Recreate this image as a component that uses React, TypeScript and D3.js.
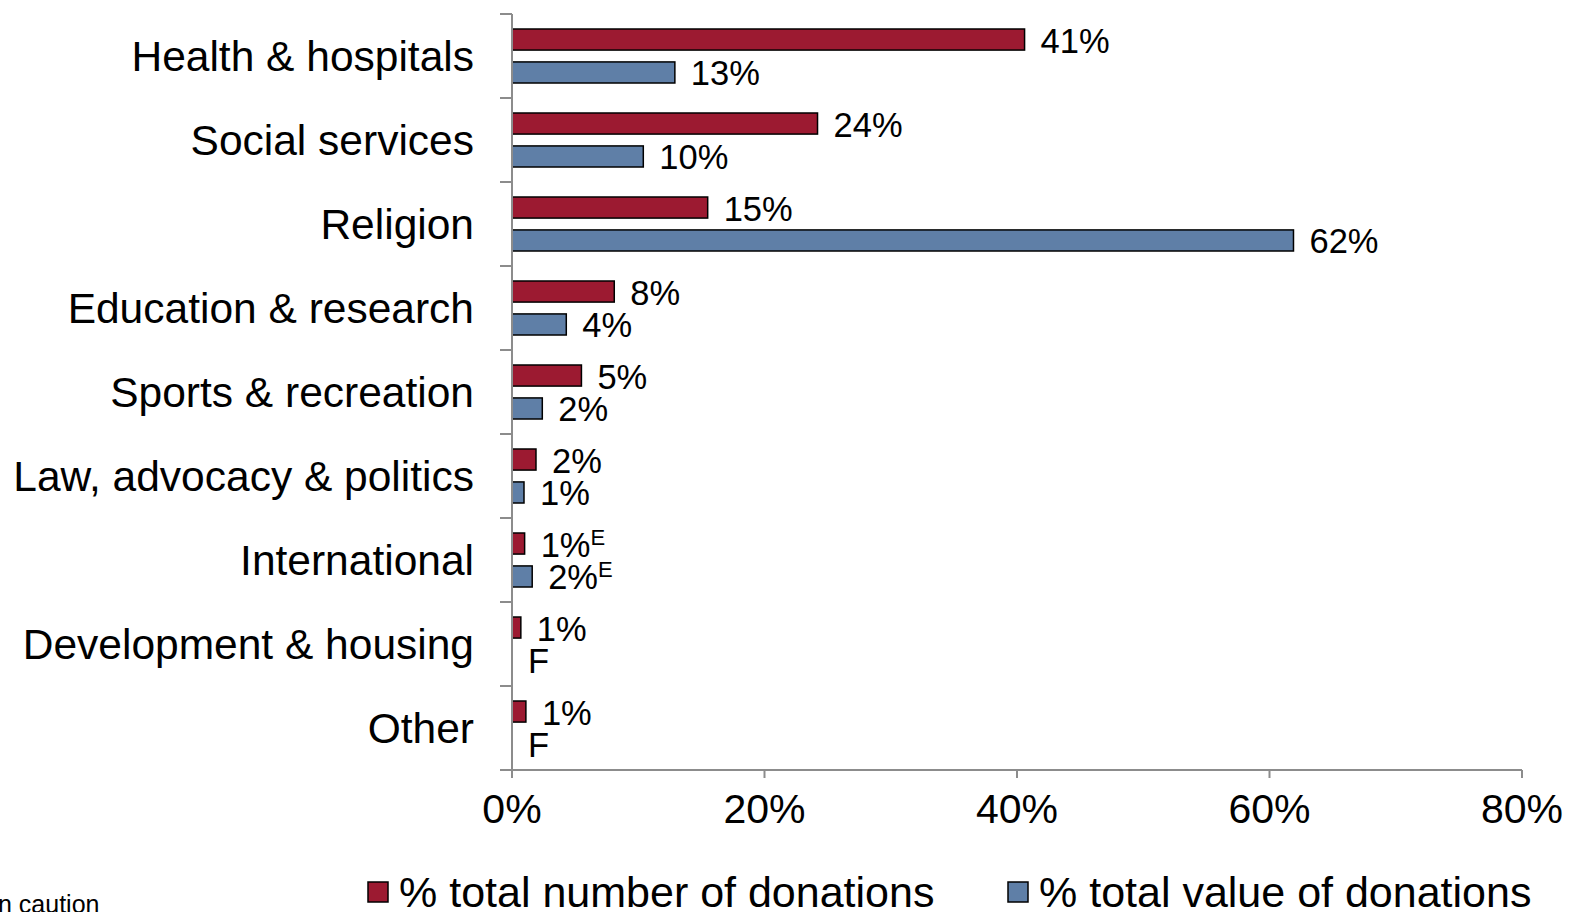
import { useEffect, useRef } from 'react';
import * as d3 from 'd3';

// categories, top to bottom
const categories = [
  'Health & hospitals',
  'Social services',
  'Religion',
  'Education & research',
  'Sports & recreation',
  'Law, advocacy & politics',
  'International',
  'Development & housing',
  'Other',
];

// % total number of donations
const numberValues = [40.6, 24.2, 15.5, 8.1, 5.5, 1.9, 1.0, 0.7, 1.1];
const numberLabels = ['41%', '24%', '15%', '8%', '5%', '2%', '1%', '1%', '1%'];
const numberFlags = ['', '', '', '', '', '', 'E', '', ''];

// % total value of donations (null = F, too unreliable)
const valueValues = [12.9, 10.4, 61.9, 4.3, 2.4, 0.95, 1.6, null, null];
const valueLabels = ['13%', '10%', '62%', '4%', '2%', '1%', '2%', 'F', 'F'];
const valueFlags = ['', '', '', '', '', '', 'E', '', ''];

const xTicks = [0, 20, 40, 60, 80];
const seriesNames = ['% total number of donations', '% total value of donations'];

const RED = '#9c1a31';
const BLUE = '#5f7fa7';
const AXIS = '#8c8c8c';
const FONT = '"Liberation Sans", Arial, sans-serif';

const App = () => {
  const svgRef = useRef(null);

  useEffect(() => {
    document.body.style.margin = '0';
    const svg = d3.select(svgRef.current);
    svg.selectAll('*').remove();

    const width = 1573;
    const height = 912;
    svg.attr('width', width).attr('height', height);

    const left = 512;
    const right = 1522;
    const top = 14;
    const bottom = 770;

    const x = d3.scaleLinear().domain([0, 80]).range([left, right]);
    const y = d3.scaleBand().domain(categories).range([top, bottom]).padding(0);
    const inner = d3.scaleBand().domain(['num', 'val']).range([15, 69]).paddingInner(0.36);

    const rows = categories.map((c, i) => ({
      cat: c,
      num: numberValues[i],
      numLabel: numberLabels[i],
      numFlag: numberFlags[i],
      val: valueValues[i],
      valLabel: valueLabels[i],
      valFlag: valueFlags[i],
    }));

    const g = svg.append('g').attr('font-family', FONT).attr('fill', '#000');

    // category labels
    g.selectAll('.cat')
      .data(rows)
      .enter()
      .append('text')
      .attr('x', 474)
      .attr('y', d => y(d.cat) + y.bandwidth() / 2 + 15)
      .attr('text-anchor', 'end')
      .attr('font-size', 42.5)
      .text(d => d.cat);

    // red bars
    g.selectAll('.bar-num')
      .data(rows)
      .enter()
      .append('rect')
      .attr('x', x(0))
      .attr('y', d => y(d.cat) + inner('num'))
      .attr('width', d => x(d.num) - x(0))
      .attr('height', inner.bandwidth())
      .attr('fill', RED)
      .attr('stroke', '#000')
      .attr('stroke-width', 1.5);

    // blue bars
    g.selectAll('.bar-val')
      .data(rows.filter(d => d.val != null))
      .enter()
      .append('rect')
      .attr('x', x(0))
      .attr('y', d => y(d.cat) + inner('val'))
      .attr('width', d => x(d.val) - x(0))
      .attr('height', inner.bandwidth())
      .attr('fill', BLUE)
      .attr('stroke', '#000')
      .attr('stroke-width', 1.5);

    // value labels
    const addLabel = (d, key) => {
      const v = key === 'num' ? d.num : d.val;
      const label = key === 'num' ? d.numLabel : d.valLabel;
      const flag = key === 'num' ? d.numFlag : d.valFlag;
      const t = g.append('text')
        .attr('x', x(v == null ? 0 : v) + 16)
        .attr('y', y(d.cat) + inner(key) + inner.bandwidth() / 2 + 13)
        .attr('font-size', 34.5)
        .text(label);
      if (flag) {
        t.append('tspan')
          .attr('font-size', 22)
          .attr('dy', -12)
          .text(flag);
      }
    };
    rows.forEach(d => {
      addLabel(d, 'num');
      addLabel(d, 'val');
    });

    // y axis
    const yAxis = g.append('g').attr('stroke', AXIS).attr('stroke-width', 2);
    yAxis.append('line')
      .attr('x1', left).attr('x2', left)
      .attr('y1', top).attr('y2', bottom + 8);
    const bounds = categories.map(c => y(c)).concat([bottom]);
    yAxis.selectAll('.ytick')
      .data(bounds)
      .enter()
      .append('line')
      .attr('x1', left - 12).attr('x2', left)
      .attr('y1', d => d).attr('y2', d => d);

    // x axis
    const xAxis = g.append('g').attr('stroke', AXIS).attr('stroke-width', 2);
    xAxis.append('line')
      .attr('x1', left).attr('x2', right)
      .attr('y1', bottom).attr('y2', bottom);
    xAxis.selectAll('.xtick')
      .data(xTicks)
      .enter()
      .append('line')
      .attr('x1', d => x(d)).attr('x2', d => x(d))
      .attr('y1', bottom).attr('y2', bottom + 8);

    g.selectAll('.xlabel')
      .data(xTicks)
      .enter()
      .append('text')
      .attr('x', d => x(d))
      .attr('y', 823)
      .attr('text-anchor', 'middle')
      .attr('font-size', 41)
      .text(d => `${d}%`);

    // legend
    const legendX = [368, 1008];
    const legend = g.selectAll('.legend')
      .data(seriesNames)
      .enter()
      .append('g')
      .attr('transform', (d, i) => `translate(${legendX[i]},0)`);
    legend.append('rect')
      .attr('x', 0).attr('y', 882)
      .attr('width', 20).attr('height', 20)
      .attr('fill', (d, i) => (i === 0 ? RED : BLUE))
      .attr('stroke', '#000')
      .attr('stroke-width', 1.5);
    legend.append('text')
      .attr('x', 31)
      .attr('y', 907)
      .attr('font-size', 43)
      .text(d => d);

    // footnote, cut off at the left edge
    g.append('text')
      .attr('x', -2)
      .attr('y', 913)
      .attr('font-size', 25)
      .text('n caution');
  }, []);

  return (
    <svg ref={svgRef} style={{ display: 'block', position: 'absolute', left: 0, top: 0 }}></svg>
  );
};

export default App;
